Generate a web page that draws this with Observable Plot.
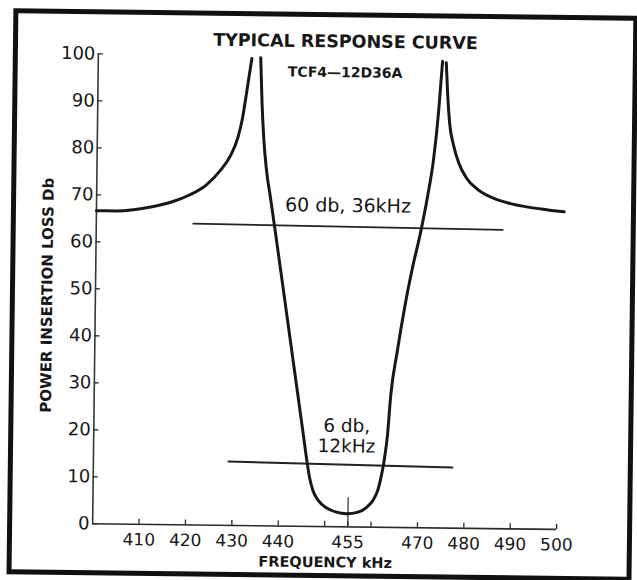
<!DOCTYPE html>
<html><head><meta charset="utf-8">
<script src="https://cdn.jsdelivr.net/npm/d3@7"></script>
<script src="https://cdn.jsdelivr.net/npm/@observablehq/plot@0.6"></script>
<style>
html,body{margin:0;padding:0;background:#fff;overflow:hidden;width:637px;height:580px;}
#wrap{position:relative;width:637px;height:580px;transform:rotate(0.7deg);transform-origin:318.5px 290px;}
#border{position:absolute;left:10px;top:12px;width:625px;height:566px;border:5px solid #111;box-sizing:border-box;}
#chart{position:absolute;left:0;top:0;}
</style></head>
<body><div id="wrap"><div id="border"></div><div id="chart"></div></div>
<script>
const title = "TYPICAL RESPONSE CURVE";
const subtitle = "TCF4\u201412D36A";
const xLabel = "FREQUENCY kHz";
const yLabel = "POWER INSERTION LOSS Db";
const xTickValues = [410, 420, 430, 440, 450, 455, 460, 470, 480, 490, 500];
const xTickLabels = [410, 420, 430, 440, 455, 470, 480, 490, 500];
const yTickValues = [0, 10, 20, 30, 40, 50, 60, 70, 80, 90, 100];

// left stopband skirt
const leftSkirtKHz = [400, 404, 408, 412, 416, 420, 423.5, 426.6, 428.8, 430.3, 431.2, 431.8, 432.4, 433.1];
const leftSkirtDb  = [66.6, 66.6, 66.9, 67.6, 68.6, 70.2, 72.3, 75.5, 78.8, 82.6, 86.5, 90.4, 94.6, 99.4];
// passband curve
const passKHz = [435.0, 435.4, 435.9, 436.5, 437.5, 438.6, 440.5, 442.2, 443.8, 445.2, 446.0, 446.6, 447.4, 448.6, 450.3, 452.5, 454.7, 457.0, 459.0, 460.4, 461.4, 462.1, 462.7, 463.3, 463.9, 465.2, 466.7, 468.3, 469.9, 471.3, 472.5, 473.5, 474.2];
const passDb  = [99.6, 90.0, 82.0, 76.0, 69.6, 62.6, 50.2, 39.0, 28.5, 19.3, 14.0, 10.5, 7.6, 5.5, 4.0, 3.1, 2.8, 3.1, 4.2, 5.8, 8.0, 11.0, 14.5, 19.5, 28.0, 37.5, 47.0, 55.5, 62.8, 70.4, 78.3, 88.9, 99.3];
// right stopband skirt
const rightSkirtKHz = [475.0, 475.4, 475.9, 476.8, 478.0, 479.6, 482.0, 485.5, 489.2, 493.0, 497.0, 500.8];
const rightSkirtDb  = [99.0, 92.0, 86.0, 81.4, 77.6, 74.6, 72.2, 70.3, 69.2, 68.5, 68.0, 67.6];

// bandwidth marker lines
const line60KHz = [420.9, 487.6];
const line60Db  = [64.1, 63.6];
const line6KHz  = [429.1, 477.4];
const line6Db   = [13.6, 12.9];
const centerKHz = 455;
const centerTickDb = 6.2;

const note60 = "60 db, 36kHz";
const note60KHz = 454.2, note60Db = 68.3;
const note6 = "6 db,\n12kHz";
const note6KHz = 454.5, note6Db = 19.4;

const toRows = (xs, ys) => xs.map((x, i) => ({x, y: ys[i]}));
const ink = "#171717";
const font = "DejaVu Sans";

const chart = Plot.plot({
  width: 637,
  height: 580,
  marginLeft: 95,
  marginRight: 78,
  marginTop: 56,
  marginBottom: 54,
  style: {fontFamily: font, fontSize: "17px", color: ink, background: "transparent"},
  x: {domain: [400, 500], label: null},
  y: {domain: [0, 100], label: null},
  marks: [
    Plot.ruleY([0], {stroke: "#2a2a2a", strokeWidth: 1.6}),
    Plot.ruleX([400], {stroke: "#2e3d2e", strokeWidth: 1.6}),
    Plot.axisY({ticks: yTickValues, tickSize: 5, dx: 5, tickFormat: () => "", label: null, stroke: "#2a2a2a", strokeWidth: 1.3}),
    Plot.axisY({ticks: yTickValues, tickSize: 0, tickPadding: 3, tickFormat: d => String(d), label: null, fontSize: 18, fill: ink}),
    Plot.axisX({ticks: xTickValues, tickSize: 5, dy: -5, tickFormat: () => "", label: null, stroke: "#2a2a2a", strokeWidth: 1.3}),
    Plot.axisX({ticks: xTickLabels, tickSize: 0, tickPadding: 9, tickFormat: d => String(d), label: null, fontSize: 17, fill: ink}),
    Plot.ruleX([centerKHz], {y1: 0, y2: centerTickDb, stroke: "#2a2a2a", strokeWidth: 1.2}),
    Plot.line(toRows(line60KHz, line60Db), {x: "x", y: "y", stroke: "#222", strokeWidth: 1.8}),
    Plot.line(toRows(line6KHz, line6Db), {x: "x", y: "y", stroke: "#222", strokeWidth: 2}),
    Plot.line(toRows(leftSkirtKHz, leftSkirtDb), {x: "x", y: "y", curve: "monotone-x", stroke: ink, strokeWidth: 3}),
    Plot.line(toRows(passKHz, passDb), {x: "x", y: "y", curve: "monotone-x", stroke: ink, strokeWidth: 3}),
    Plot.line(toRows(rightSkirtKHz, rightSkirtDb), {x: "x", y: "y", curve: "monotone-x", stroke: ink, strokeWidth: 3}),
    Plot.text([note60], {x: () => note60KHz, y: () => note60Db, text: d => d, fontSize: 19, fill: ink, textAnchor: "middle", lineAnchor: "middle"}),
    Plot.text([note6], {x: () => note6KHz, y: () => note6Db, text: d => d, fontSize: 18.5, fill: ink, textAnchor: "middle", lineAnchor: "middle", lineHeight: 1.1}),
    Plot.text([title], {frameAnchor: "top", dx: 15, dy: -15, text: d => d, fontWeight: "bold", fontSize: 17.5, fill: ink, textAnchor: "middle", lineAnchor: "middle"}),
    Plot.text([subtitle], {frameAnchor: "top", dx: 15, dy: 16, text: d => d, fontWeight: "bold", fontSize: 14, fill: ink, textAnchor: "middle", lineAnchor: "middle"}),
    Plot.text([yLabel], {frameAnchor: "left", dx: -48, dy: 7, rotate: -90, text: d => d, fontWeight: "bold", fontSize: 15, fill: ink, textAnchor: "middle", lineAnchor: "middle"}),
    Plot.text([xLabel], {frameAnchor: "bottom", dx: 1, dy: 36, text: d => d, fontWeight: "bold", fontSize: 14.5, fill: ink, textAnchor: "middle", lineAnchor: "middle"})
  ]
});
document.getElementById("chart").appendChild(chart);
</script>
</body></html>
